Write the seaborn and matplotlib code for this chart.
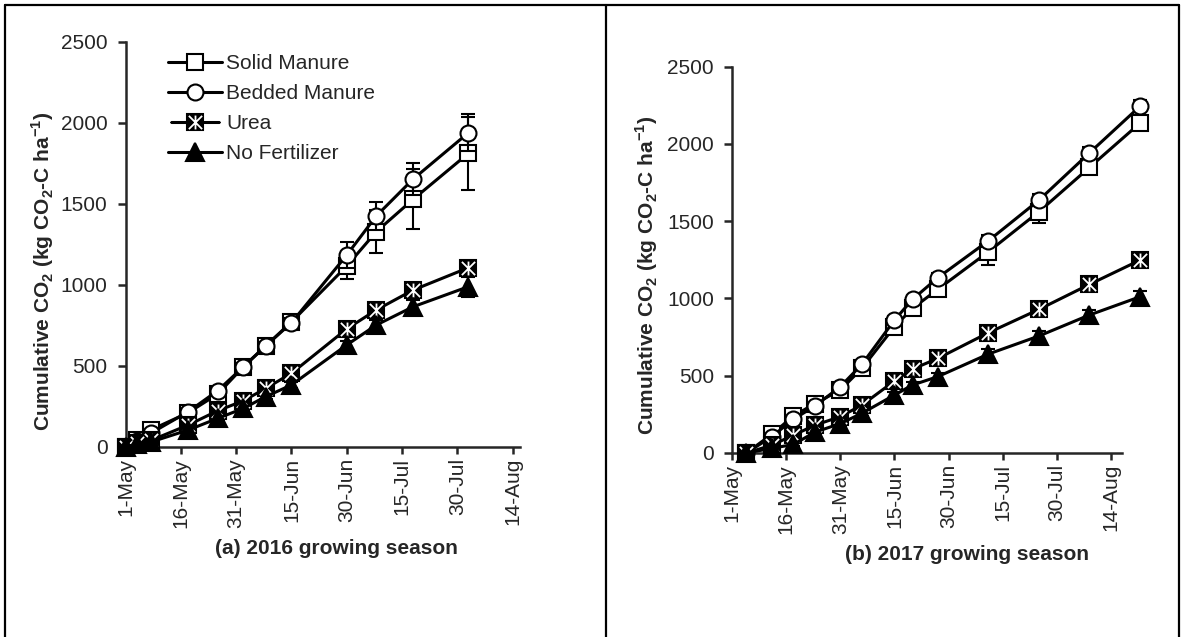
import numpy as np
import pandas as pd
import matplotlib
matplotlib.use("Agg")
import matplotlib.pyplot as plt
from matplotlib.lines import Line2D
from matplotlib.path import Path
from matplotlib.legend_handler import HandlerLine2D
from matplotlib.ticker import FuncFormatter
import matplotlib.dates as mdates
import seaborn as sns

# ---- data: cumulative CO2 (kg CO2-C / ha) ----
days_2016 = [0, 3, 7, 17, 25, 32, 38, 45, 60, 68, 78, 93]   # days after 1 May
solid_2016 = [0, 40, 105, 210, 325, 494, 622, 770, 1115, 1327, 1527, 1811]
bedded_2016 = [0, 35, 85, 216, 346, 494, 622, 765, 1183, 1424, 1652, 1938]
urea_2016 = [0, 20, 40, 134, 222, 284, 360, 453, 727, 844, 967, 1105]
nofert_2016 = [0, 15, 30, 103, 175, 237, 309, 381, 628, 751, 864, 988]
solid_err_2016 = [0, 5, 10, 15, 20, 20, 25, 30, 80, 133, 185, 225]
bedded_err_2016 = [0, 5, 10, 15, 20, 20, 25, 30, 80, 88, 97, 115]
urea_err_2016 = [0, 3, 5, 10, 10, 15, 15, 20, 25, 30, 35, 40]
nofert_err_2016 = [0, 3, 5, 10, 10, 15, 15, 20, 25, 30, 40, 62]

days_2017 = [4, 11, 17, 23, 30, 36, 45, 50, 57, 71, 85, 99, 113]
solid_2017 = [0, 120, 239, 320, 407, 548, 817, 936, 1059, 1302, 1561, 1848, 2135]
bedded_2017 = [0, 105, 218, 304, 429, 574, 860, 994, 1134, 1373, 1636, 1942, 2244]
urea_2017 = [0, 50, 115, 180, 235, 310, 466, 543, 612, 778, 929, 1091, 1248]
nofert_2017 = [0, 30, 55, 135, 190, 257, 375, 440, 494, 640, 757, 893, 1011]
solid_err_2017 = [0, 10, 15, 15, 20, 20, 25, 25, 30, 86, 75, 40, 40]
bedded_err_2017 = [0, 10, 15, 15, 20, 20, 25, 25, 30, 40, 40, 40, 40]
urea_err_2017 = [0, 5, 10, 10, 15, 15, 20, 20, 25, 30, 35, 40, 45]
nofert_err_2017 = [0, 5, 10, 10, 15, 15, 20, 20, 25, 30, 30, 35, 35]

series_names = ["Solid Manure", "Bedded Manure", "Urea", "No Fertilizer"]
tick_days = [0, 15, 30, 45, 60, 75, 90, 105]
y_ticks = [0, 500, 1000, 1500, 2000, 2500]

# ---- style ----
sns.set_style("ticks")
plt.rcParams["font.family"] = ["Liberation Sans", "DejaVu Sans"]
plt.rcParams["mathtext.fontset"] = "custom"
plt.rcParams["mathtext.rm"] = "Liberation Sans"
plt.rcParams["mathtext.bf"] = "Liberation Sans:bold"
plt.rcParams["axes.linewidth"] = 1.8

FS = 15
LW = 2.2
MEW = 1.5

# white asterisk drawn on top of a black square for the urea series
star_path = Path(
    [(-1, -1), (1, 1), (-1, 1), (1, -1), (0, -1.05), (0, 1.05)],
    [Path.MOVETO, Path.LINETO, Path.MOVETO, Path.LINETO, Path.MOVETO, Path.LINETO],
)
star_style = dict(linestyle="none", marker=star_path, markersize=10,
                  mew=1.3, mec="white", mfc="none")

styles = {
    "Solid Manure": dict(marker="s", markersize=12, mfc="white", mec="black"),
    "Bedded Manure": dict(marker="o", markersize=11.5, mfc="white", mec="black"),
    "Urea": dict(marker="s", markersize=12, mfc="black", mec="black"),
    "No Fertilizer": dict(marker="^", markersize=13.5, mfc="black", mec="black"),
}

start_2016 = pd.Timestamp("2016-05-01")
start_2017 = pd.Timestamp("2017-05-01")


def to_dates(start, days):
    return [start + pd.Timedelta(days=int(d)) for d in days]


class StarSquareHandler(HandlerLine2D):
    """Legend entry: black square marker with a white asterisk on top."""

    def create_artists(self, legend, orig_handle, xdescent, ydescent,
                       width, height, fontsize, trans):
        artists = super().create_artists(legend, orig_handle, xdescent, ydescent,
                                         width, height, fontsize, trans)
        mk = artists[-1]
        star = Line2D(mk.get_xdata(), mk.get_ydata(), transform=trans, **star_style)
        return list(artists) + [star]


def draw_panel(ax, start, days, values, errs, xmax_days):
    x = to_dates(start, days)
    for i, (name, vals, err) in enumerate(zip(series_names, values, errs)):
        ax.errorbar(x, vals, yerr=err, fmt="none", ecolor="black",
                    elinewidth=1.5, capsize=5, capthick=1.5, zorder=2 + i,
                    clip_on=False)
        df = pd.DataFrame({"date": x, "value": vals})
        sns.lineplot(data=df, x="date", y="value", ax=ax, color="black",
                     lw=LW, mew=MEW, zorder=3 + i, clip_on=False,
                     sort=False, **styles[name])
        if name == "Urea":
            ax.plot(x, vals, zorder=3.5 + i, clip_on=False, **star_style)

    ax.set_xlim(start, start + pd.Timedelta(days=xmax_days))
    ax.set_ylim(0, 2500)
    ax.set_yticks(y_ticks)
    ax.set_xticks(to_dates(start, tick_days))
    ax.xaxis.set_major_formatter(
        FuncFormatter(lambda v, p: (lambda d: f"{d.day}-{d.strftime('%b')}")(mdates.num2date(v)))
    )
    ax.tick_params(axis="x", labelrotation=90, labelsize=FS, length=5,
                   width=1.8, direction="out", pad=3)
    ax.tick_params(axis="y", labelsize=FS, length=6, width=1.8,
                   direction="out", pad=7)
    for lbl in ax.get_xticklabels():
        lbl.set_va("top")
    sns.despine(ax=ax)
    ax.set_xlabel("")
    ax.set_ylabel("Cumulative CO$_\\mathbf{2}$ (kg CO$_\\mathbf{2}$-C ha$^\\mathbf{-1}$)",
                  fontsize=FS, fontweight="bold")


fig = plt.figure(figsize=(11.84, 6.37), dpi=100)
ax1 = fig.add_axes([0.106, 0.2987, 0.3332, 0.6358])
ax2 = fig.add_axes([0.6182, 0.2889, 0.3294, 0.6064])

draw_panel(ax1, start_2016, days_2016,
           [solid_2016, bedded_2016, urea_2016, nofert_2016],
           [solid_err_2016, bedded_err_2016, urea_err_2016, nofert_err_2016], 107)
draw_panel(ax2, start_2017, days_2017,
           [solid_2017, bedded_2017, urea_2017, nofert_2017],
           [solid_err_2017, bedded_err_2017, urea_err_2017, nofert_err_2017], 108)

ax1.yaxis.set_label_coords(-0.176, 0.432)
ax2.yaxis.set_label_coords(-0.185, 0.461)

# legend
handles = [Line2D([], [], color="black", lw=LW, mew=MEW, **styles[n]) for n in series_names]
ax1.legend(handles, series_names, loc="upper left", bbox_to_anchor=(0.108, 0.97),
           frameon=False, fontsize=FS, handlelength=2.6, handletextpad=0.2,
           labelspacing=0.53, borderpad=0, borderaxespad=0,
           handler_map={handles[2]: StarSquareHandler()})

fig.text(336.5 / 1184, 1 - 548 / 637, "(a) 2016 growing season",
         ha="center", va="center", fontsize=FS, fontweight="bold")
fig.text(967 / 1184, 1 - 555 / 637, "(b) 2017 growing season",
         ha="center", va="center", fontsize=FS, fontweight="bold")

# panel frame lines
for xs, ys in [([5, 5], [5, 637]), ([5, 1179], [5, 5]), ([1179, 1179], [5, 637]),
               ([606, 606], [5, 637])]:
    fig.add_artist(Line2D([x / 1184 for x in xs], [1 - y / 637 for y in ys],
                          color="black", lw=1.6, transform=fig.transFigure))

fig.savefig("out.png", dpi=100, facecolor="white")
